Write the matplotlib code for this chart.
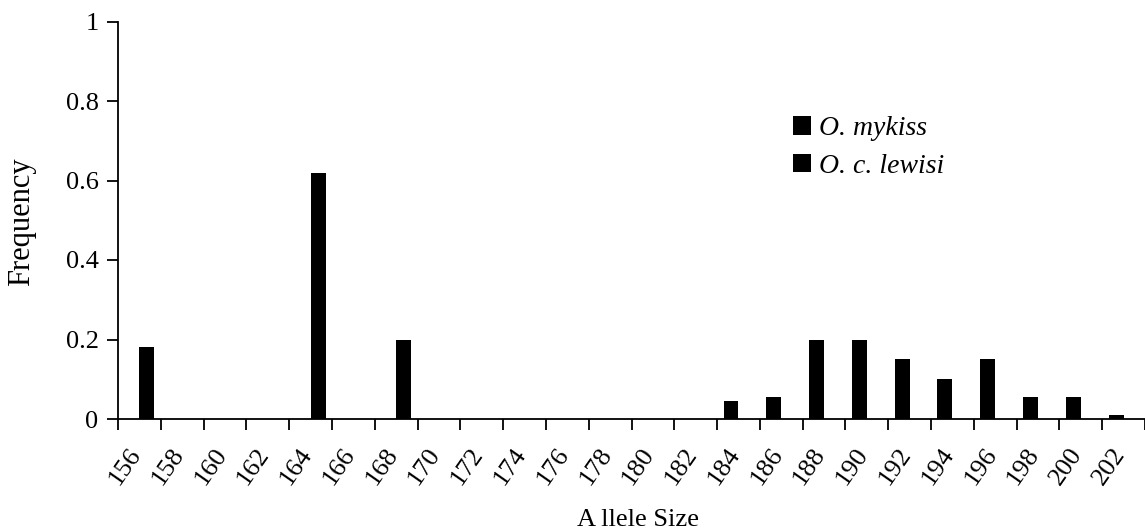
import matplotlib
matplotlib.use("Agg")
import matplotlib.pyplot as plt
import matplotlib.transforms as mtransforms
import numpy as np

# allele size classes on the x axis
allele_sizes = [156, 158, 160, 162, 164, 166, 168, 170, 172, 174, 176, 178,
                180, 182, 184, 186, 188, 190, 192, 194, 196, 198, 200, 202]

# frequencies
mykiss = [0, 0, 0, 0, 0, 0, 0, 0, 0, 0, 0, 0,
          0, 0, 0.045, 0.055, 0.2, 0.2, 0.15, 0.1, 0.15, 0.055, 0.055, 0.01]
lewisi = [0.18, 0, 0, 0, 0.62, 0, 0.2, 0, 0, 0, 0, 0,
          0, 0, 0, 0, 0, 0, 0, 0, 0, 0, 0, 0]

plt.rcParams['font.family'] = ['Liberation Serif', 'DejaVu Serif']

W, H = 1145, 531
fig = plt.figure(figsize=(W / 100, H / 100), dpi=100)
ax = fig.add_axes([118 / W, 112 / H, (W - 118) / W, 397.5 / H])

x = np.arange(len(allele_sizes))
bw = 0.35
b1 = ax.bar(x, mykiss, width=-bw, align='edge', color='black', label='O. mykiss')
b2 = ax.bar(x, lewisi, width=bw, align='edge', color='black', label='O. c. lewisi')

ax.set_xlim(-0.5, 23.31)
ax.set_ylim(0, 1)

for s in ['top', 'right']:
    ax.spines[s].set_visible(False)
for s in ['left', 'bottom']:
    ax.spines[s].set_linewidth(1.3)

# tick marks at the category boundaries, labels at the centres
ax.set_xticks(np.arange(len(allele_sizes) + 1) - 0.5)
ax.set_xticklabels([])
ax.set_xticks(x, [str(a) for a in allele_sizes], minor=True)
ax.tick_params(axis='x', which='major', direction='out', length=8, width=1.3)
ax.tick_params(axis='x', which='minor', length=0, pad=18, labelsize=19)
shift = mtransforms.ScaledTranslation(6 / 100, 0, fig.dpi_scale_trans)
for lab in ax.get_xticklabels(minor=True):
    lab.set_rotation(55)
    lab.set_ha('right')
    lab.set_va('top')
    lab.set_transform(lab.get_transform() + shift)

ax.set_yticks([0, 0.2, 0.4, 0.6, 0.8, 1.0], ['0', '0.2', '0.4', '0.6', '0.8', '1'])
ax.tick_params(axis='y', direction='out', length=8, width=1.3, labelsize=19, pad=6)

ax.set_ylabel('Frequency', fontsize=22, va='center', ha='center')
ax.yaxis.set_label_coords(-0.0935, 0.496)
ax.set_xlabel('A llele Size', fontsize=19, va='center', ha='center')
ax.xaxis.set_label_coords(0.506, -0.254)

leg = fig.legend(handles=[b1, b2], loc='upper left',
                 bbox_to_anchor=(793 / W, 1 - 116 / H),
                 frameon=False, borderpad=0, borderaxespad=0,
                 handlelength=0.65, handleheight=0.65, handletextpad=0.3,
                 labelspacing=0.45, prop={'size': 20, 'style': 'italic'})

fig.savefig('out.png', dpi=100)
